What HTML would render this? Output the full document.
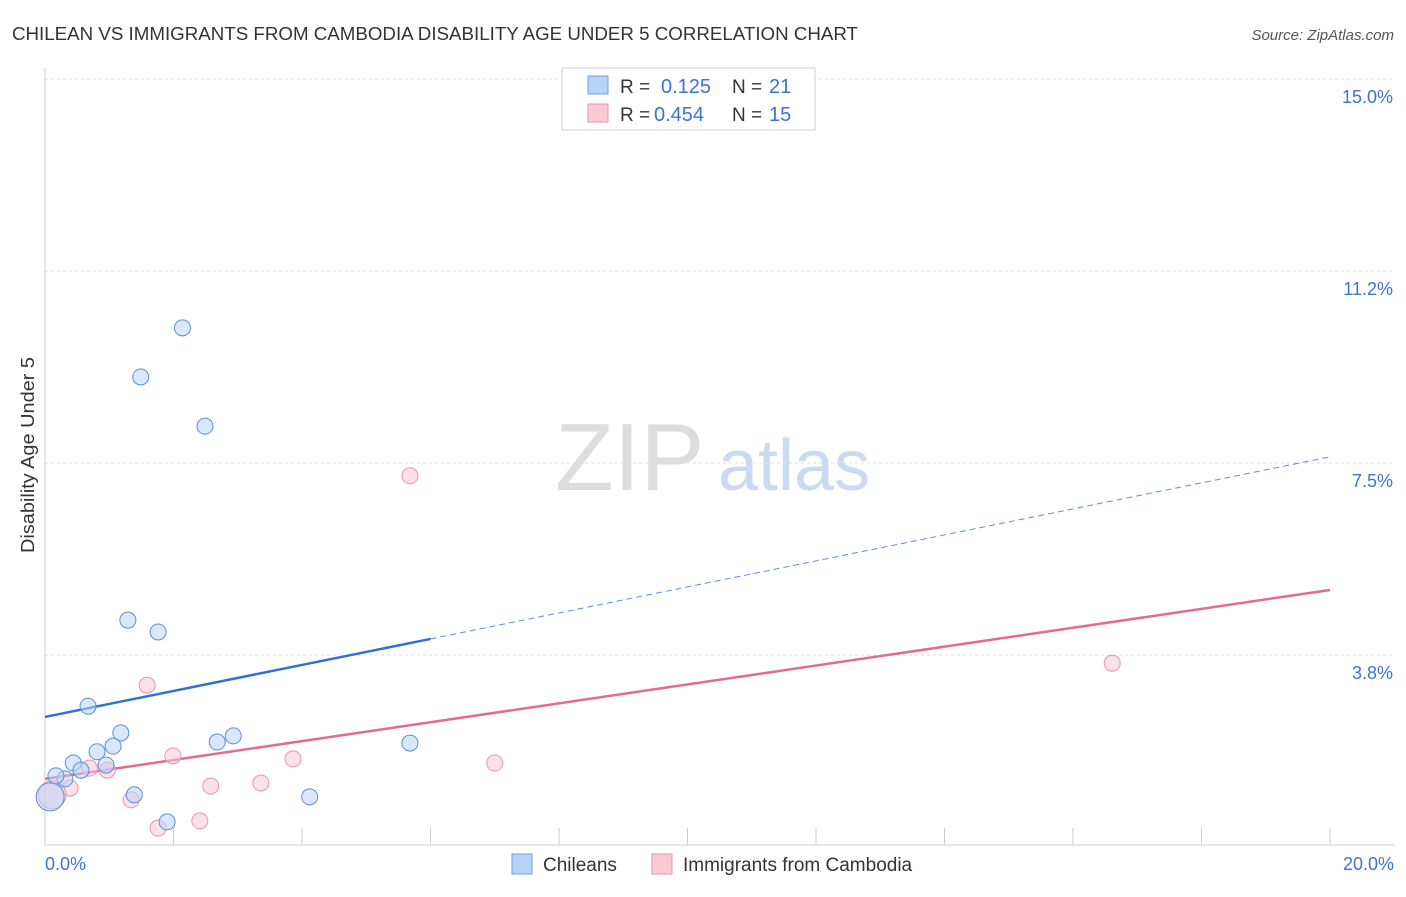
<!DOCTYPE html>
<html><head><meta charset="utf-8"><style>
body{margin:0;background:#fff;font-family:"Liberation Sans",sans-serif;}
svg text{font-family:"Liberation Sans",sans-serif;}
</style></head><body>
<svg id="chart" width="1406" height="892">
<text x="12" y="40" font-size="18" fill="#333" textLength="846" lengthAdjust="spacingAndGlyphs">CHILEAN VS IMMIGRANTS FROM CAMBODIA DISABILITY AGE UNDER 5 CORRELATION CHART</text>
<text x="1394" y="40" font-size="15" fill="#555" font-style="italic" text-anchor="end">Source: ZipAtlas.com</text>
<text x="34" y="455" font-size="18" fill="#333" transform="rotate(-90 34 455)" text-anchor="middle" textLength="196" lengthAdjust="spacingAndGlyphs">Disability Age Under 5</text>
<text x="555" y="490" font-size="96" fill="#ddd" font-family="Liberation Serif">ZIP</text>
<text x="718" y="490" font-size="72" fill="#c9daf2">atlas</text>
<g id="grid"></g><g id="axes"></g><g id="lines"></g><g id="pts"></g>
<g>
<rect x="562" y="68" width="253" height="62" fill="#fff" stroke="#ccc"/>
<rect x="588" y="76" width="20" height="18" fill="#b8d3f5" stroke="#6fa0e0"/>
<text x="620" y="93" font-size="19" fill="#333">R = </text><text x="661" y="93" font-size="20" fill="#3a75d4">0.125</text>
<text x="732" y="93" font-size="19" fill="#333">N = </text><text x="769" y="93" font-size="20" fill="#3a75d4">21</text>
<rect x="588" y="104" width="20" height="18" fill="#f9c9d6" stroke="#e895ad"/>
<text x="620" y="121" font-size="19" fill="#333">R = </text><text x="654" y="121" font-size="20" fill="#3a75d4">0.454</text>
<text x="732" y="121" font-size="19" fill="#333">N = </text><text x="769" y="121" font-size="20" fill="#3a75d4">15</text>
</g>
<g>
<rect x="512" y="854" width="20" height="20" fill="#b8d3f5" stroke="#6fa0e0"/>
<text x="543" y="871" font-size="19" fill="#333">Chileans</text>
<rect x="652" y="854" width="20" height="20" fill="#f9c9d6" stroke="#e895ad"/>
<text x="683" y="871" font-size="19" fill="#333">Immigrants from Cambodia</text>
</g>
</svg>
<script>
const NS="http://www.w3.org/2000/svg";
const yTicks=[3.75,7.5,11.25,15];
const yTickLabels=["3.8%","7.5%","11.2%","15.0%"];
const xTickVals=[0,2,4,6,8,10,12,14,16,18,20];
const blueX=[2.14,1.49,2.49,1.29,1.76,0.67,1.18,1.06,0.81,2.68,2.93,5.68,0.44,0.95,0.56,0.31,0.17,1.39,4.12,1.90,0.08];
const blueY=[10.14,9.18,8.22,4.43,4.2,2.75,2.23,1.97,1.86,2.05,2.17,2.03,1.64,1.6,1.5,1.33,1.39,1.02,0.98,0.49,0.98];
const pinkX=[5.68,1.59,16.61,1.99,3.86,7.0,0.69,0.97,0.39,2.58,3.36,1.34,1.76,2.41,0.11];
const pinkY=[7.25,3.16,3.59,1.78,1.72,1.64,1.54,1.5,1.15,1.19,1.25,0.92,0.37,0.51,1.02];
const blueLine=[2.54,0.254]; // intercept, slope per %
const pinkLine=[1.33,0.1845];
const X=v=>45+v*64.25, Y=v=>847-v*51.2;
function mk(t,a,p){const e=document.createElementNS(NS,t);for(const k in a)e.setAttribute(k,a[k]);p.appendChild(e);return e;}
const grid=document.getElementById('grid'),axes=document.getElementById('axes'),lines=document.getElementById('lines'),pts=document.getElementById('pts');
yTicks.forEach((v,i)=>{
 const l=mk('line',{x1:45,x2:1394,y1:Y(v),y2:Y(v),stroke:'#ddd','stroke-dasharray':'3,3'},grid);
 
 
 const t=mk('text',{x:1393,y:Y(v)+24,'font-size':18,fill:'#3a75d4','text-anchor':'end'},grid);t.textContent=yTickLabels[i];
 
 
});
const ax=mk('line',{x1:45,x2:1394,y1:845,y2:845,stroke:'#ccc'},axes);


const ay=mk('line',{x1:45,x2:45,y1:68,y2:845,stroke:'#ccc'},axes);


xTickVals.forEach(v=>{const t=mk('line',{x1:X(v),x2:X(v),y1:828,y2:845,stroke:'#ccc'},axes);
 
 });
const xl0=mk('text',{x:45,y:870,'font-size':18,fill:'#3a75d4'},axes);xl0.textContent='0.0%';


const xl1=mk('text',{x:1394,y:870,'font-size':18,fill:'#3a75d4','text-anchor':'end'},axes);xl1.textContent='20.0%';


const b1=mk('line',{x1:X(0),y1:Y(blueLine[0]),x2:X(6),y2:Y(blueLine[0]+6*blueLine[1]),stroke:'#2f72d6','stroke-width':2.5},lines);


const b2=mk('line',{x1:X(6),y1:Y(blueLine[0]+6*blueLine[1]),x2:X(20),y2:Y(blueLine[0]+20*blueLine[1]),stroke:'#5b8fd9','stroke-width':1,'stroke-dasharray':'6,4'},lines);


const p1=mk('line',{x1:X(0),y1:Y(pinkLine[0]),x2:X(20),y2:Y(pinkLine[0]+20*pinkLine[1]),stroke:'#e56a93','stroke-width':2.5},lines);


function dots(xs,ys,fill,stroke,name){xs.forEach((x,i)=>{const r=(i==xs.length-1)?14:8;
 const c=mk('circle',{cx:X(x),cy:Y(ys[i]),r:r,fill:fill,'fill-opacity':0.55,stroke:stroke,'stroke-width':1},pts);
 
 });}
dots(pinkX,pinkY,'#f9c9d6','#e895ad','cambodia-point');
dots(blueX,blueY,'#b8d3f5','#5b8fd9','chileans-point');
</script>
</body></html>
